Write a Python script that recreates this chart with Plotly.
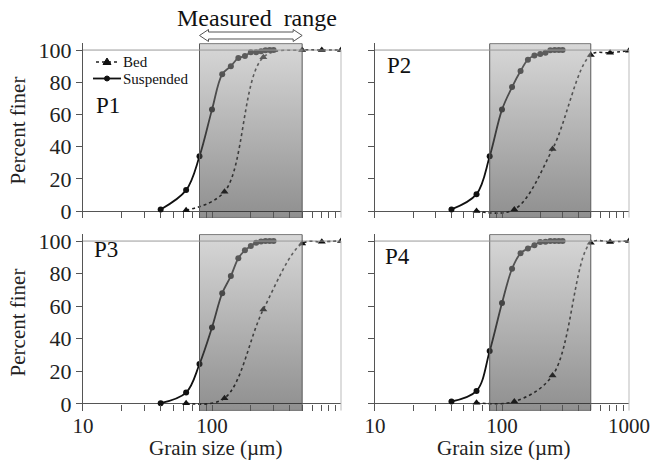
import math
import plotly.graph_objects as go
from plotly.subplots import make_subplots

# ---------------- data ----------------
susp_size = [40, 63, 80, 100, 120, 140, 160, 180, 200, 220, 240, 260, 280, 300]
bed_size = [63, 125, 250, 500, 710, 1000]

p1_susp = [1, 13, 34, 63, 85, 90, 95, 96.3, 98.6, 98.7, 99.2, 99.8, 100, 100]
p1_bed = [0.5, 12, 95.5, 100, 100, 100]

p2_susp = [1, 10.5, 34, 63, 77, 87, 94, 96.6, 97.5, 98.4, 99.8, 100, 100, 100]
p2_bed = [0, 1, 38.5, 97, 98.3, 99.6]

p3_susp = [0.5, 7, 24.5, 47, 68, 78.5, 89.5, 94.3, 97, 99, 99.8, 100, 100, 100]
p3_bed = [0.4, 3.5, 58, 98.5, 99.6, 100]

p4_susp = [1.5, 8, 32.5, 62, 83, 92.5, 95.5, 97.5, 99.5, 99.6, 100, 100, 100, 100]
p4_bed = [0.8, 1.5, 17.5, 99, 99.5, 100]

panel_labels = ["P1", "P2", "P3", "P4"]
measured_range = [80, 500]
legend_names = ["Bed", "Suspended"]

x_ticks = [10, 20, 30, 40, 50, 60, 70, 80, 90, 100,
           200, 300, 400, 500, 600, 700, 800, 900, 1000]
y_ticks = [0, 20, 40, 60, 80, 100]

FONT = "Liberation Serif, Times New Roman, serif"
Y_RANGE = [-4.2, 104.2]
W, H = 653, 465


def px_x(p):
    return p / W


def px_y(p):
    return 1 - p / H


fig = make_subplots(rows=2, cols=2)

panels = [(1, 1, p1_susp, p1_bed), (1, 2, p2_susp, p2_bed),
          (2, 1, p3_susp, p3_bed), (2, 2, p4_susp, p4_bed)]

for i, (r, c, susp, bed) in enumerate(panels):
    fig.add_trace(go.Scatter(
        x=bed_size, y=bed, mode="lines+markers", name="Bed",
        line=dict(color="#222", width=1.6, dash="dot", shape="spline"),
        marker=dict(symbol="triangle-up", size=7, color="#111"),
        showlegend=False), row=r, col=c)
    fig.add_trace(go.Scatter(
        x=susp_size, y=susp, mode="lines+markers", name="Suspended",
        line=dict(color="#111", width=1.8, shape="spline"),
        marker=dict(symbol="circle", size=6, color="#111"),
        showlegend=False), row=r, col=c)
    # measured range box (semi-transparent gradient, drawn over the curves)
    lo, hi = measured_range
    fig.add_trace(go.Scatter(
        x=[lo, hi, hi, lo, lo], y=[-4, -4, 104, 104, -4],
        mode="lines", fill="toself",
        fillgradient=dict(type="vertical",
                          colorscale=[[0, "rgba(32,32,32,0.5)"],
                                      [1, "rgba(176,176,176,0.5)"]]),
        line=dict(color="#5a5a5a", width=1),
        hoverinfo="skip", showlegend=False), row=r, col=c)

x_dom = {1: [83 / W, 341 / W], 2: [375 / W, 629 / W]}
y_dom = {1: [0.5316, 0.9069], 2: [0.1166, 0.4963]}

for i, (r, c, _, _) in enumerate(panels):
    n = i + 1
    xa = "xaxis" if n == 1 else f"xaxis{n}"
    ya = "yaxis" if n == 1 else f"yaxis{n}"
    bottom = r == 2
    if bottom:
        ttext = [str(v) if v in (10, 100) or (v == 1000 and c == 2) else "" for v in x_ticks]
    else:
        ttext = ["" for _ in x_ticks]
    fig.layout[xa].update(
        type="log", range=[1, 3], domain=x_dom[c], showgrid=False, zeroline=False,
        showline=False, ticks="inside", ticklen=6, tickcolor="#555", tickwidth=1,
        tickvals=x_ticks, ticktext=ttext, showticklabels=bottom,
        tickfont=dict(family=FONT, size=21, color="#222"), automargin=False)
    fig.layout[ya].update(
        range=Y_RANGE, domain=y_dom[r], showgrid=False, zeroline=True,
        zerolinecolor="#555", zerolinewidth=1, showline=True, linecolor="#555",
        linewidth=1, ticks="outside", ticklen=6, tickcolor="#555",
        tickvals=y_ticks, showticklabels=(c == 1),
        tickfont=dict(family=FONT, size=22, color="#222"), automargin=False,
        title=dict(text="Percent finer" if c == 1 else "",
                   font=dict(family=FONT, size=21, color="#222"), standoff=7))
    xr = "x" if n == 1 else f"x{n}"
    yr = "y" if n == 1 else f"y{n}"
    fig.add_shape(type="line", xref=f"{xr} domain", yref=yr, x0=0, x1=1, y0=100, y1=100,
                  line=dict(color="#999", width=1))
    fig.add_shape(type="line", xref=f"{xr} domain", yref=yr, x0=1, x1=1, y0=Y_RANGE[0], y1=100,
                  line=dict(color="#bbb", width=1))

# x-axis titles
for cx in (215, 503):
    fig.add_annotation(text="Grain size (\u00b5m)", xref="paper", yref="paper",
                       x=px_x(cx), y=px_y(448), xanchor="center", yanchor="middle",
                       showarrow=False, font=dict(family=FONT, size=21, color="#222"))

# panel labels
label_pos = [(94, 105), (385, 65), (92, 250), (383, 256)]
for txt, (px, py) in zip(panel_labels, label_pos):
    fig.add_annotation(text=txt, xref="paper", yref="paper", x=px_x(px), y=px_y(py),
                       xanchor="left", yanchor="middle", showarrow=False,
                       font=dict(family=FONT, size=23, color="#111"))

# "Measured range" heading and hollow double arrow above the top-left panel
fig.add_annotation(text="Measured  range", xref="paper", yref="paper",
                   x=px_x(257), y=px_y(18), xanchor="center", yanchor="middle",
                   showarrow=False, font=dict(family=FONT, size=24, color="#111"))
lo, hi = measured_range
head = 10 ** (9 / 129)
yc, h1, h2 = px_y(35.5), 3.5 / H, 6 / H
pts = [(lo, yc), (lo * head, yc + h2), (lo * head, yc + h1), (hi / head, yc + h1),
       (hi / head, yc + h2), (hi, yc), (hi / head, yc - h2), (hi / head, yc - h1),
       (lo * head, yc - h1), (lo * head, yc - h2)]
path = "M " + " L ".join(f"{x:.4f},{y:.5f}" for x, y in pts) + " Z"
fig.add_shape(type="path", xref="x", yref="paper", path=path,
              line=dict(color="#555", width=1), fillcolor="white")

# hand-drawn compact legend (top-left panel)
leg_rows = [62, 78.5]
# Bed: dotted line with triangle
fig.add_shape(type="line", xref="paper", yref="paper", x0=px_x(96), x1=px_x(119),
              y0=px_y(leg_rows[0]), y1=px_y(leg_rows[0]),
              line=dict(color="#222", width=1.5, dash="dot"))
tri = [(107, leg_rows[0] - 4), (111, leg_rows[0] + 2.5), (103, leg_rows[0] + 2.5)]
fig.add_shape(type="path", xref="paper", yref="paper",
              path="M " + " L ".join(f"{px_x(a):.5f},{px_y(b):.5f}" for a, b in tri) + " Z",
              line=dict(color="#111", width=1), fillcolor="#111")
# Suspended: solid line with circle
fig.add_shape(type="line", xref="paper", yref="paper", x0=px_x(93), x1=px_x(121),
              y0=px_y(leg_rows[1]), y1=px_y(leg_rows[1]),
              line=dict(color="#111", width=1.8))
fig.add_shape(type="circle", xref="paper", yref="paper",
              x0=px_x(104.5), x1=px_x(109.5), y0=px_y(leg_rows[1] + 2.5), y1=px_y(leg_rows[1] - 2.5),
              line=dict(color="#111", width=1), fillcolor="#111")
for name, ry in zip(legend_names, leg_rows):
    fig.add_annotation(text=name, xref="paper", yref="paper", x=px_x(121), y=px_y(ry),
                       xanchor="left", yanchor="middle", showarrow=False,
                       font=dict(family=FONT, size=15, color="#111"))

fig.update_layout(
    width=W, height=H, margin=dict(l=0, r=0, t=0, b=0),
    paper_bgcolor="white", plot_bgcolor="rgba(0,0,0,0)",
    font=dict(family=FONT, color="#222"),
    showlegend=False,
)

fig.write_html("out.html", config={"displayModeBar": False},
               post_script="document.body.style.margin='0';")
